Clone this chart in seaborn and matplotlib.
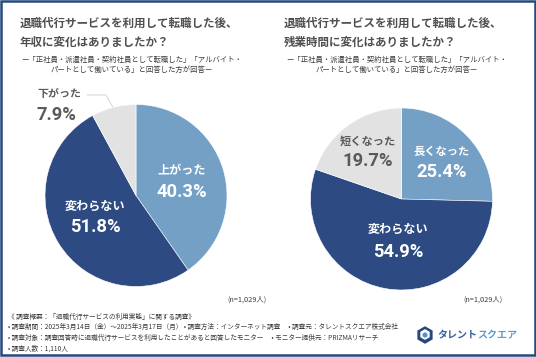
import matplotlib
matplotlib.use("Agg")
import matplotlib.pyplot as plt
from matplotlib.patches import Rectangle, RegularPolygon
import seaborn as sns

# Data
left_labels = ["上がった", "変わらない", "下がった"]
left_values = [40.3, 51.8, 7.9]
right_labels = ["長くなった", "変わらない", "短くなった"]
right_values = [25.4, 54.9, 19.7]
title_left = ["退職代行サービスを利用して転職した後、", "年収に変化はありましたか？"]
title_right = ["退職代行サービスを利用して転職した後、", "残業時間に変化はありましたか？"]
subtitle = ["ー「正社員・派遣社員・契約社員として転職した」「アルバイト・", "パートとして働いている」と回答した方が回答ー"]
sample_note = "(n=1,029人)"
footer_lines = [
    "《 調査概要：「退職代行サービスの利用実態」に関する調査》",
    "• 調査期間：2025年3月14日（金）～2025年3月17日（月） • 調査方法：インターネット調査 　• 調査元：タレントスクエア株式会社",
    "• 調査対象：調査回答時に退職代行サービスを利用したことがあると回答したモニター 　• モニター提供元：PRIZMAリサーチ",
    "• 調査人数：1,110人",
]
logo_parts = ["タレント", "スクエア"]

W, H = 536, 357
NAVY = "#2d4a82"
BLUE = "#74a0c6"
GREY = "#e2e2e2"
BORDER = "#24487f"
TEXT = "#3c3c3c"
TITLE = "#505050"
LABEL_GREY = "#5a5a5a"

sns.set_theme(style="white")
plt.rcParams["font.family"] = ["Noto Sans CJK JP", "DejaVu Sans"]
palette = sns.color_palette([BLUE, NAVY, GREY])

fig = plt.figure(figsize=(W / 100, H / 100), dpi=100, facecolor="white")

# Overlay in pixel coordinates for text and frame
bg = fig.add_axes([0, 0, 1, 1], zorder=3)
bg.set_xlim(0, W)
bg.set_ylim(H, 0)
bg.axis("off")
bg.patch.set_alpha(0)
bg.add_patch(Rectangle((0.8, 0.8), W - 1.6, H - 2.4, fill=False, ec=BORDER, lw=1.8))


def draw_pie(cx, cy, r, values):
    ax = fig.add_axes([(cx - r) / W, 1 - (cy + r) / H, 2 * r / W, 2 * r / H])
    ax.pie(values, colors=palette, startangle=90, counterclock=False, radius=1,
           wedgeprops={"edgecolor": "white", "linewidth": 0.4})
    ax.set_xlim(-1, 1)
    ax.set_ylim(-1, 1)
    return ax


def slice_label(x, y, name, value, color, gap=21, size=8.7, ha="center", px=None):
    bg.text(x, y, name, ha=ha, va="center", fontsize=size, color=color, fontweight="bold")
    bg.text(x if px is None else px, y + gap, f"{value}%", ha=ha, va="center", fontsize=13.2, color=color,
            fontweight="bold", family=["Roboto", "DejaVu Sans"])


draw_pie(136, 195.5, 91, left_values)
draw_pie(401.5, 199, 91, right_values)

for x, lines in [(20, title_left), (284, title_right)]:
    for y, line in zip([23, 42], lines):
        bg.text(x, y, line, ha="left", va="center", fontsize=8.3, color=TITLE, fontweight="bold")

for x in [132, 397]:
    for y, line in zip([59.5, 70], subtitle):
        bg.text(x, y, line, ha="center", va="center", fontsize=5.3, color=TEXT)

slice_label(181.5, 171, left_labels[0], left_values[0], "white")
slice_label(95, 206, left_labels[1], left_values[1], "white")
slice_label(59, 94, left_labels[2], left_values[2], LABEL_GREY, size=7.9, px=56)
slice_label(441.5, 151, right_labels[0], right_values[0], "white", size=8.1)
slice_label(398, 229, right_labels[1], right_values[1], "white", gap=23)
slice_label(368, 141, right_labels[2], right_values[2], LABEL_GREY, gap=20, size=8.1)

# leader line of the small slice
bg.plot([87, 106, 112.7], [95, 95, 107], color="#cfcfcf", lw=0.6)

bg.text(247, 300, sample_note, ha="center", va="center", fontsize=5.3, color=TEXT)
bg.text(483, 300, sample_note, ha="center", va="center", fontsize=5.3, color=TEXT)

for y, line in zip([317, 327, 338, 349], footer_lines):
    bg.text(8, y, line, ha="left", va="center", fontsize=4.8, color=TEXT)

# Logo
bg.add_patch(RegularPolygon((425, 335), 6, radius=8.8, fc=BORDER, ec="none"))
bg.add_patch(RegularPolygon((425, 334.5), 6, radius=5.4, fc="white", ec="none"))
bg.add_patch(RegularPolygon((425, 335), 6, radius=2.8, fc="#5b8fc4", ec="none"))
bg.text(437, 335, logo_parts[0], ha="left", va="center", fontsize=7.2, color="#35609f", fontweight="bold")
bg.text(477, 335, logo_parts[1], ha="left", va="center", fontsize=7.2, color="#5b9bd0", fontweight="bold")

fig.savefig("out.png", dpi=100, facecolor="white")
